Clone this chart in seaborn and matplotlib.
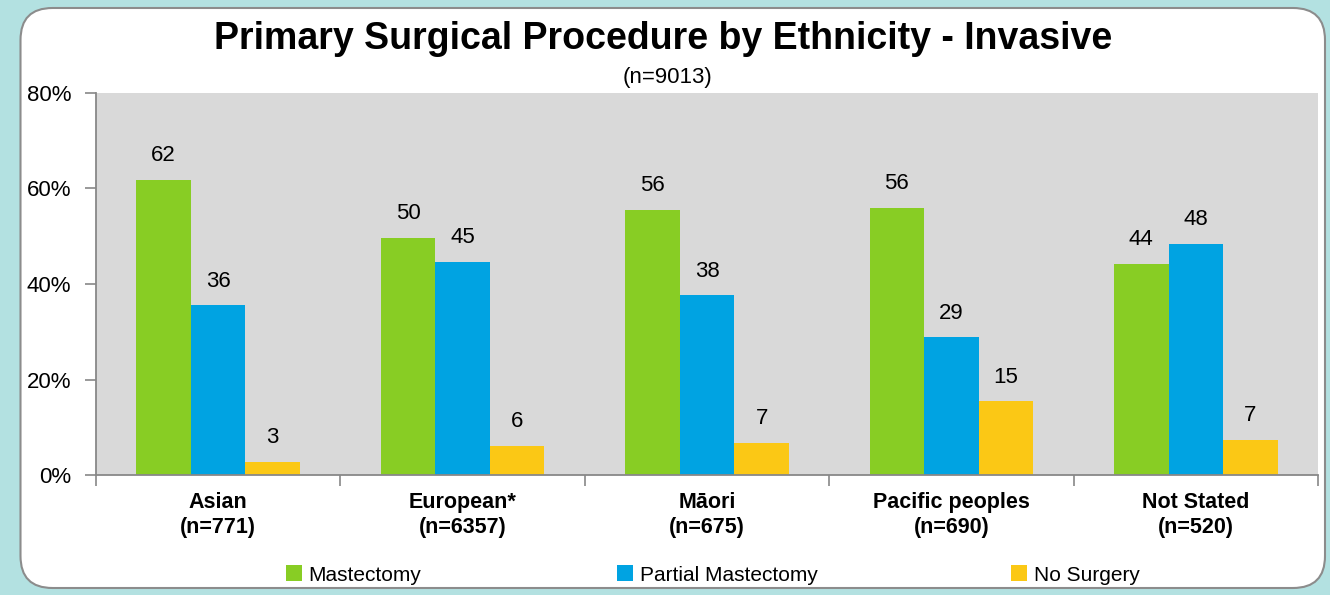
import matplotlib
matplotlib.use("Agg")
import matplotlib.pyplot as plt
from matplotlib.patches import FancyBboxPatch, Patch
from matplotlib.transforms import IdentityTransform
import seaborn as sns
import pandas as pd

categories = ["Asian\n(n=771)", "European*\n(n=6357)", "Māori\n(n=675)",
              "Pacific peoples\n(n=690)", "Not Stated\n(n=520)"]
series = ["Mastectomy", "Partial Mastectomy", "No Surgery"]
mastectomy = [61.8, 49.6, 55.5, 55.9, 44.2]
partial = [35.5, 44.7, 37.6, 28.8, 48.4]
no_surgery = [2.7, 6.0, 6.8, 15.4, 7.3]
yticks = [0, 20, 40, 60, 80]
title = "Primary Surgical Procedure by Ethnicity - Invasive"
subtitle = "(n=9013)"
colors = ["#88cd24", "#00a3e2", "#fbc815"]

rows = []
for s, vals in zip(series, [mastectomy, partial, no_surgery]):
    for c, v in zip(categories, vals):
        rows.append({"cat": c, "series": s, "value": v})
df = pd.DataFrame(rows)

sns.set_theme(style="white")
fam = ["Liberation Sans", "DejaVu Sans"]
plt.rcParams["font.family"] = fam
plt.rcParams["text.color"] = "black"
plt.rcParams["xtick.color"] = "black"
plt.rcParams["ytick.color"] = "black"

W, H = 1330, 595
fig = plt.figure(figsize=(W / 100, H / 100), dpi=100)
fig.patch.set_facecolor("#b3e1e1")
panel = FancyBboxPatch((20.5, H - 588), 1325 - 20.5, 588 - 8,
                       boxstyle="round,pad=0,rounding_size=32",
                       transform=IdentityTransform(), facecolor="white",
                       edgecolor="#8c8c8c", linewidth=1.5, zorder=-10)
fig.patches.append(panel)

ax = fig.add_axes([96 / W, (H - 475) / H, (1318 - 96) / W, (475 - 93) / H])
ax.set_zorder(5)
ax.set_facecolor("#d9d9d9")
sns.barplot(data=df, x="cat", y="value", hue="series", order=categories,
            hue_order=series, palette=colors, width=0.67, saturation=1,
            ax=ax, legend=False, linewidth=0)

for cont in ax.containers:
    ax.bar_label(cont, labels=[f"{v:.0f}" for v in cont.datavalues],
                 padding=10, fontsize=16, color="black")

ax.set_ylim(0, 80)
ax.set_xlim(-0.5, 4.5)
ax.set_yticks(yticks)
ax.set_yticklabels([f"{t}%" for t in yticks], fontsize=16)
ax.set_xticks(range(len(categories)))
ax.set_xticklabels(categories, fontsize=15.5, fontweight="bold", linespacing=1.3)
ax.tick_params(axis="x", which="major", length=0, pad=12)
ax.set_xticks([i - 0.5 for i in range(len(categories) + 1)], minor=True)
ax.tick_params(axis="x", which="minor", length=8, color="#888888", width=1.2,
               direction="out", bottom=True)
ax.tick_params(axis="y", length=8, color="#888888", width=1.2, direction="out",
               left=True, pad=10)
ax.set_xlabel("")
ax.set_ylabel("")
for s in ["top", "right"]:
    ax.spines[s].set_visible(False)
for s in ["left", "bottom"]:
    ax.spines[s].set_color("#888888")
    ax.spines[s].set_linewidth(1.3)
ax.grid(False)

fig.text(0.4985, 1 - 39 / H, title, ha="center", va="center", fontsize=27,
         fontweight="bold")
fig.text(0.502, 1 - 77 / H, subtitle, ha="center", va="center", fontsize=16)

leg_x = [286, 617, 1011]
for s, col, lx in zip(series, colors, leg_x):
    fig.legend([Patch(facecolor=col, edgecolor="none")], [s], loc="center left",
               bbox_to_anchor=(lx / W, 1 - 575 / H), frameon=False,
               handlelength=0.78, handleheight=0.78,
               handletextpad=0.3, borderpad=0, borderaxespad=0,
               prop={"size": 15})

fig.savefig("out.png", dpi=100, facecolor=fig.get_facecolor())
